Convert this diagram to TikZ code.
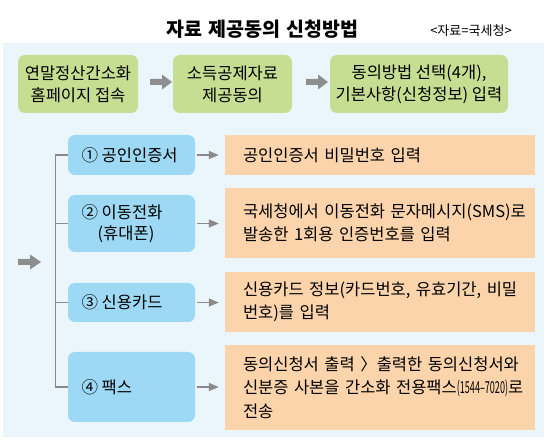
\documentclass[tikz,border=0pt]{standalone}
\usepackage{fontspec}
\setmainfont{Noto Sans CJK KR}
\usetikzlibrary{arrows.meta,calc}
\definecolor{bgblue}{HTML}{EAF6FC}
\definecolor{boxgreen}{HTML}{C6DE92}
\definecolor{boxblue}{HTML}{9DD9F4}
\definecolor{boxorange}{HTML}{FCD4AB}
\definecolor{arrgray}{HTML}{8E8E8E}
\definecolor{linegray}{HTML}{8A8A8A}
\newcommand{\narrowtxt}[2]{\scalebox{#1}[1]{#2}}
\newcommand{\oneline}[1]{\mbox{#1}}
\tikzset{
  greenbox/.style={fill=boxgreen, rounded corners=7pt, minimum height=58pt, inner sep=0pt, align=center, font=\fontsize{16.5}{22}\selectfont},
  bluebox/.style={fill=boxblue, rounded corners=7pt, minimum width=127pt, inner sep=0pt},
  bluetext/.style={anchor=west, align=center, font=\fontsize{16.5}{21}\selectfont},
  orangebox/.style={fill=boxorange, minimum width=310pt, text width=274pt, inner xsep=18pt, inner ysep=0pt, align=left, font=\fontsize{16.5}{23.5}\selectfont},
  blockarrow/.style={draw=none, fill=arrgray},
  smallarrow/.style={draw=linegray, line width=1.2pt, -{Triangle[length=10pt,width=8pt]}},
  branch/.style={draw=linegray, line width=1.1pt}
}
\begin{document}
\begin{tikzpicture}[x=1pt,y=-1pt]
\useasboundingbox (0,0) rectangle (549,443);
\fill[white] (0,0) rectangle (549,443);
% background panel
\fill[bgblue] (3,43) rectangle (544,437);
% title
\node[font=\fontsize{19.5}{22}\selectfont\bfseries] (title) at (262.5,29) {자료\hspace{2pt} 제공동의\hspace{2pt} 신청방법};
\node[font=\fontsize{13}{15}\selectfont] (src) at (471,31) {<자료=국세청>};
% green row
\node[greenbox, minimum width=120pt] (g1) at (78,84) {연말정산간소화\\홈페이지 접속};
\node[greenbox, minimum width=119pt] (g2) at (232.5,84) {소득공제자료\\제공동의};
\node[greenbox, minimum width=178pt] (g3) at (419,84) {동의방법 선택(4개),\\기본사항(신청정보) 입력};
% block arrows between green boxes
\coordinate (ga1) at (150,82);
\coordinate (ga2) at (306,82);
\fill[blockarrow] ($(ga1)+(0,-3)$) -- ++(12,0) -- ++(0,-4.5) -- ++(10,7.5) -- ++(-10,7.5) -- ++(0,-4.5) -- ++(-12,0) -- cycle;
\fill[blockarrow] ($(ga2)+(0,-3)$) -- ++(12,0) -- ++(0,-4.5) -- ++(10,7.5) -- ++(-10,7.5) -- ++(0,-4.5) -- ++(-12,0) -- cycle;
% left block arrow
\coordinate (la) at (18,262);
\fill[blockarrow] ($(la)+(0,-3)$) -- ++(12,0) -- ++(0,-4.5) -- ++(11,7.5) -- ++(-11,7.5) -- ++(0,-4.5) -- ++(-12,0) -- cycle;
% blue boxes
\node[bluebox, minimum height=40pt] (b1) at (131.5,155) {};
\node[bluebox, minimum height=57pt] (b2) at (131.5,223.5) {};
\node[bluebox, minimum height=39pt] (b3) at (131.5,302.5) {};
\node[bluebox, minimum height=70pt] (b4) at (131.5,387) {};
\node[bluetext] (t1) at (78,155) {① 공인인증서};
\node[bluetext] (t2) at (78,223.5) {② 이동전화\\\hspace{8pt}(휴대폰)};
\node[bluetext] (t3) at (78,302.5) {③ 신용카드};
\node[bluetext] (t4) at (78,387) {④ 팩스};
% orange boxes
\node[orangebox, minimum height=40pt] (o1) at (380,155) {\oneline{공인인증서 비밀번호 입력}};
\node[orangebox, minimum height=70pt] (o2) at (380,223) {\oneline{국세청에서 이동전화 문자메시지(SMS)로}\\\oneline{발송한 1회용 인증번호를 입력}};
\node[orangebox, minimum height=60pt] (o3) at (380,302) {\oneline{신용카드 정보(카드번호, 유효기간, 비밀}\\\oneline{번호)를 입력}};
\node[orangebox, minimum height=85pt] (o4) at (380,387.5) {\oneline{동의신청서 출력 〉출력한 동의신청서와}\\\oneline{신분증 사본을 간소화 전용팩스\narrowtxt{0.55}{(1544–7020)}로}\\\oneline{전송}};
% tree connector
\coordinate (tree) at (55.5,155);
\draw[branch] (b1.west) -- (tree) |- (b4.west);
\draw[branch] (tree |- b2.west) -- (b2.west);
\draw[branch] (tree |- b3.west) -- (b3.west);
% small arrows
\draw[smallarrow] ([xshift=2pt]b1.east) -- ([xshift=-6pt]o1.west);
\draw[smallarrow] ([xshift=2pt]b2.east) -- ([xshift=-6pt]o2.west |- b2.east);
\draw[smallarrow] ([xshift=2pt]b3.east) -- ([xshift=-6pt]o3.west |- b3.east);
\draw[smallarrow] ([xshift=2pt]b4.east) -- ([xshift=-6pt]o4.west |- b4.east);
\end{tikzpicture}
\end{document}
